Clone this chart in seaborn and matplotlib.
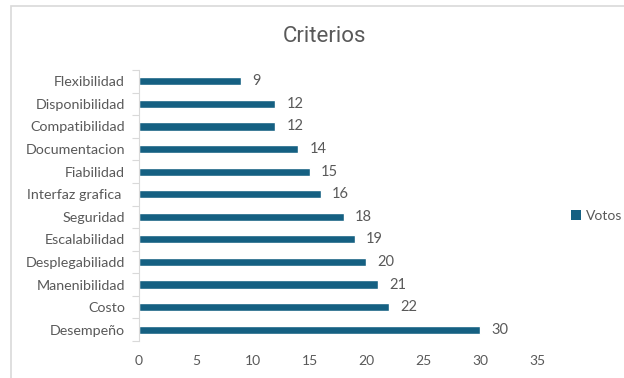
import matplotlib
matplotlib.use("Agg")
import matplotlib.pyplot as plt
import seaborn as sns
import pandas as pd
from matplotlib.patches import Rectangle, Patch
from matplotlib.ticker import FixedLocator

categorias = ["Flexibilidad", "Disponibilidad", "Compatibilidad", "Documentacion",
              "Fiabilidad", "Interfaz grafica ", "Seguridad", "Escalabilidad",
              "Desplegabiliadd", "Manenibilidad", "Costo", "Desempeño"]
votos = [9, 12, 12, 14, 15, 16, 18, 19, 20, 21, 22, 30]
xticks = [0, 5, 10, 15, 20, 25, 30, 35]

df = pd.DataFrame({"Criterio": categorias, "Votos": votos})

sns.set_theme(style="white")
plt.rcParams["font.family"] = ["Lato", "DejaVu Sans"]

W, H = 624, 378
fig = plt.figure(figsize=(W / 100, H / 100), dpi=100)
ax = fig.add_axes([139 / W, 1 - 341 / H, (537 - 139) / W, (341 - 70) / H])

color = "#156082"
sns.barplot(data=df, x="Votos", y="Criterio", orient="h", color=color,
            width=0.36, ax=ax, saturation=1)

txt = "#595959"
ax.set_xlim(0, 35)
ax.set_ylim(len(categorias) - 0.5, -0.5)
ax.set_xticks(xticks)
ax.set_xticklabels([str(t) for t in xticks], color=txt, fontsize=10)
ax.tick_params(axis="x", length=0, pad=10)
ax.tick_params(axis="y", which="major", length=0, pad=10, labelcolor=txt, labelsize=10.3)
ax.yaxis.set_minor_locator(FixedLocator([i - 0.5 for i in range(len(categorias) + 1)]))
ax.tick_params(axis="y", which="minor", length=5, width=0.8, color="#D9D9D9", left=True)
ax.set_xlabel("")
ax.set_ylabel("")
for s in ["top", "right", "bottom"]:
    ax.spines[s].set_visible(False)
ax.spines["left"].set_color("#D9D9D9")
ax.spines["left"].set_linewidth(0.8)

for c in ax.containers:
    ax.bar_label(c, padding=8, color=txt, fontsize=10.5)

handle = Patch(facecolor=color, edgecolor="none")
fig.legend([handle], ["Votos"], loc="center left", bbox_to_anchor=(571 / W, 1 - 216 / H),
           frameon=False, fontsize=10, handlelength=0.75, handleheight=0.75,
           handletextpad=0.35, borderpad=0, borderaxespad=0, labelcolor=txt)

fig.text(325 / W, 1 - 36 / H, "Criterios", ha="center", va="center",
         fontsize=16, color=txt, family=["Roboto", "DejaVu Sans"])

fig.patches.append(Rectangle((11 / W, -0.05), 1.1, 1 - 6 / H + 0.05,
                             transform=fig.transFigure, fill=False,
                             edgecolor="#D9D9D9", linewidth=1.2))

fig.savefig("out.png", dpi=100)
